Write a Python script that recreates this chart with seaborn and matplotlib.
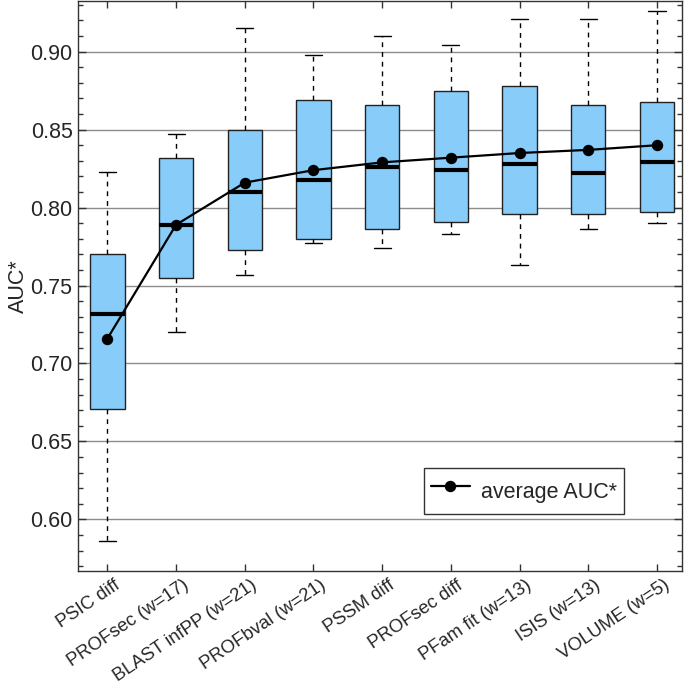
import numpy as np
import pandas as pd
import matplotlib
matplotlib.use("Agg")
import matplotlib.pyplot as plt
import matplotlib.transforms as mtransforms
from matplotlib.ticker import MultipleLocator, FormatStrFormatter
import seaborn as sns

categories = ["PSIC diff", "PROFsec (w=17)", "BLAST infPP (w=21)", "PROFbval (w=21)",
              "PSSM diff", "PROFsec diff", "PFam fit (w=13)", "ISIS (w=13)", "VOLUME (w=5)"]
whisker_low = [0.586, 0.720, 0.757, 0.777, 0.774, 0.783, 0.763, 0.786, 0.790]
q1 = [0.671, 0.755, 0.773, 0.780, 0.786, 0.791, 0.796, 0.796, 0.797]
median = [0.732, 0.789, 0.810, 0.818, 0.826, 0.824, 0.828, 0.822, 0.829]
q3 = [0.770, 0.832, 0.850, 0.869, 0.866, 0.875, 0.878, 0.866, 0.868]
whisker_high = [0.823, 0.847, 0.915, 0.898, 0.910, 0.904, 0.921, 0.921, 0.926]
mean_auc = [0.716, 0.789, 0.816, 0.824, 0.829, 0.832, 0.835, 0.837, 0.840]
yticks = [0.60, 0.65, 0.70, 0.75, 0.80, 0.85, 0.90]

# long-form table: five-number summary per category (whiskers span min..max)
rows = []
for c, a, b, m, d, e in zip(categories, whisker_low, q1, median, q3, whisker_high):
    for v in (a, b, m, d, e):
        rows.append({"method": c, "auc": v})
df = pd.DataFrame(rows)
mean_df = pd.DataFrame({"method": categories, "auc": mean_auc})

sns.set_style("white")
plt.rcParams["font.family"] = ["Liberation Sans", "DejaVu Sans"]

fig = plt.figure(figsize=(6.85, 6.85), dpi=100)
ax = fig.add_axes([0.114, 0.1664, 0.8816, 0.8326])

ax.set_axisbelow(True)
ax.yaxis.grid(True, color="#8c8c8c", linewidth=1.0)

sns.boxplot(data=df, x="method", y="auc", order=categories, ax=ax,
            color="#88CCFA", saturation=1, width=0.5, whis=(0, 100),
            linecolor="#222222", linewidth=1.0, showfliers=False,
            medianprops=dict(color="black", linewidth=3),
            whiskerprops=dict(color="black", linewidth=1.0, linestyle=(0, (3.5, 3.5))),
            capprops=dict(color="black", linewidth=1.0))

sns.pointplot(data=mean_df, x="method", y="auc", order=categories, ax=ax,
              color="black", markers="o", linestyles="-", errorbar=None,
              markersize=7, linewidth=1.6, label="average AUC*")

ax.set_xlim(-0.427, 8.365)
ax.set_ylim(0.5669, 0.9327)
ax.set_yticks(yticks)
ax.yaxis.set_major_formatter(FormatStrFormatter("%.2f"))
ax.yaxis.set_minor_locator(MultipleLocator(0.01))

ax.tick_params(axis="y", which="major", direction="in", length=6, width=1,
               left=True, right=True, labelsize=15.5, pad=4, color="#333333")
ax.tick_params(axis="y", which="minor", direction="in", length=3.5, width=1,
               left=True, right=True, color="#333333")
ax.tick_params(axis="x", which="major", direction="in", length=5, width=1,
               bottom=True, top=True, labelsize=13.3, pad=4, color="#333333")
offset = mtransforms.ScaledTranslation(6 / 100, 0, fig.dpi_scale_trans)
for lab in ax.get_xticklabels():
    lab.set_rotation(34)
    lab.set_ha("right")
    lab.set_rotation_mode("anchor")
    lab.set_transform(lab.get_transform() + offset)

for s in ax.spines.values():
    s.set_color("#333333")
    s.set_linewidth(1.0)

ax.set_xlabel("")
ax.set_ylabel("AUC*", fontsize=15.5, labelpad=1)

leg = ax.legend(loc="lower left", bbox_to_anchor=(0.573, 0.1), fontsize=15.5,
                frameon=True, fancybox=False, edgecolor="black",
                handlelength=1.85, handleheight=2.0, borderpad=0.3,
                handletextpad=0.5, borderaxespad=0.0)
leg.get_frame().set_linewidth(1.0)

fig.savefig("out.png", dpi=100)
